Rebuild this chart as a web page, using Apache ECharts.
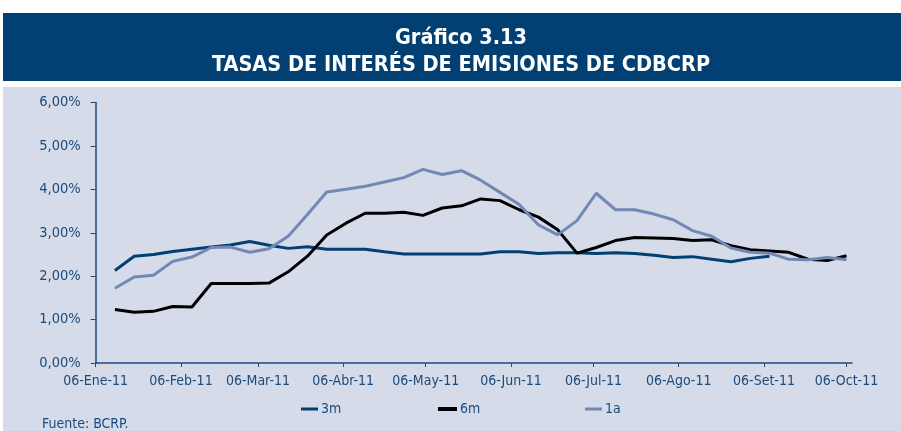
<!DOCTYPE html>
<html>
<head>
<meta charset="utf-8">
<script src="https://cdn.jsdelivr.net/npm/echarts@6/dist/echarts.min.js"></script>
<style>html,body{margin:0;padding:0;background:#fff;}#c{width:901px;height:431px;}</style>
</head>
<body>
<div id="c"></div>
<script>
// ---- data ----
var monthNames = ['Ene','Feb','Mar','Abr','May','Jun','Jul','Ago','Set','Oct','Nov','Dic'];
var weekDates = ['2011-01-13','2011-01-20','2011-01-27','2011-02-03','2011-02-10','2011-02-17','2011-02-24',
  '2011-03-03','2011-03-10','2011-03-17','2011-03-24','2011-03-31','2011-04-07','2011-04-14','2011-04-21','2011-04-28',
  '2011-05-05','2011-05-12','2011-05-19','2011-05-26','2011-06-02','2011-06-09','2011-06-16','2011-06-23','2011-06-30',
  '2011-07-07','2011-07-14','2011-07-21','2011-07-28','2011-08-04','2011-08-11','2011-08-18','2011-08-25',
  '2011-09-01','2011-09-08','2011-09-15','2011-09-22','2011-09-29','2011-10-06'];
var rate3m = [2.13,2.46,2.50,2.57,2.62,2.67,2.72,2.80,2.71,2.64,2.68,2.62,2.62,2.62,2.56,2.51,2.51,2.51,
  2.51,2.51,2.56,2.56,2.52,2.54,2.54,2.52,2.54,2.52,2.48,2.43,2.45,2.39,2.33,2.41,2.46,null,null,null,null];
var rate6m = [1.23,1.17,1.19,1.30,1.29,1.83,1.83,1.83,1.84,2.10,2.46,2.95,3.22,3.45,3.45,3.47,3.40,3.57,
  3.62,3.78,3.74,3.53,3.36,3.07,2.53,2.66,2.82,2.89,2.88,2.87,2.82,2.84,2.70,2.61,2.58,2.55,2.39,2.36,2.47];
var rate1a = [1.72,1.98,2.02,2.34,2.44,2.66,2.67,2.55,2.63,2.92,3.42,3.94,4.00,4.07,4.17,4.27,4.46,4.34,
  4.43,4.21,3.93,3.65,3.18,2.95,3.28,3.91,3.53,3.53,3.43,3.30,3.05,2.92,2.65,2.55,2.53,2.39,2.38,2.43,2.38];
var seriesNames = ['3m','6m','1a'];
var yTicks = [0,1,2,3,4,5,6];
var titleLines = ['Gráfico 3.13', 'TASAS DE INTERÉS DE EMISIONES DE CDBCRP'];
var sourceText = 'Fuente: BCRP.';

// daily category axis (Jan 6 2011 .. Oct 8 2011), labels on the 6th of each month
var days = [];
(function(){
  var d = Date.UTC(2011,0,6), end = Date.UTC(2011,9,8);
  for (; d <= end; d += 86400000) {
    var dt = new Date(d);
    days.push(dt.getUTCFullYear() + '-' + ('0'+(dt.getUTCMonth()+1)).slice(-2) + '-' + ('0'+dt.getUTCDate()).slice(-2));
  }
})();
function isTickDay(v){ return v.slice(8) === '06' && v <= '2011-10-06'; }
function fmtDay(v){ var m = parseInt(v.slice(5,7),10)-1; return v.slice(8) + '-' + monthNames[m] + '-' + v.slice(2,4); }
function pairs(vals){ return weekDates.map(function(d,i){ return [d, vals[i]]; }); }

var axisColor = '#1b4b7d';
var colors = ['#023f73', '#000000', '#7189b4'];
var font = '"DejaVu Sans Condensed", "Liberation Sans Narrow", "Liberation Sans", sans-serif';
function legendFor(i, left, w, h, top) {
  return { left: left, top: top, itemWidth: w, itemHeight: h, itemGap: 0, icon: 'rect', padding: 0,
    textStyle: { color: axisColor, fontFamily: font, fontSize: 14, padding: [0,0,0,-2] }, data: [seriesNames[i]] };
}
var chart = echarts.init(document.getElementById('c'));
chart.setOption({
  animation: false,
  backgroundColor: '#ffffff',
  graphic: [
    { type: 'rect', shape: { x: 3, y: 13, width: 898, height: 68 }, style: { fill: '#023f73' }, z: -10 },
    { type: 'rect', shape: { x: 3, y: 87, width: 898, height: 344 }, style: { fill: '#d5dbe8' }, z: -10 },
    { type: 'text', x: 461, y: 38, style: { text: titleLines[0], fill: '#ffffff', font: 'bold 21.5px ' + font, textAlign: 'center', textVerticalAlign: 'middle' } },
    { type: 'text', x: 461, y: 65, style: { text: titleLines[1], fill: '#ffffff', font: 'bold 21.5px ' + font, textAlign: 'center', textVerticalAlign: 'middle' } },
    { type: 'text', x: 42, y: 424, style: { text: sourceText, fill: axisColor, font: '14px ' + font, textVerticalAlign: 'middle' } }
  ],
  legend: [
    legendFor(0, 301, 17, 3, 402),
    legendFor(1, 438, 19, 4, 402),
    legendFor(2, 585, 17, 3, 402)
  ],
  grid: { left: 95.7, right: 49, top: 102.5, bottom: 68, containLabel: false },
  xAxis: {
    type: 'category', data: days, boundaryGap: false,
    axisLine: { lineStyle: { color: axisColor, width: 1.5 } },
    axisTick: { show: true, interval: function(i, v){ return isTickDay(v); }, length: 4, lineStyle: { color: axisColor } },
    axisLabel: { interval: function(i, v){ return isTickDay(v); }, formatter: fmtDay, color: axisColor, fontFamily: font, fontSize: 14, margin: 11 },
    splitLine: { show: false }
  },
  yAxis: {
    type: 'value', min: yTicks[0], max: yTicks[yTicks.length-1], interval: 1,
    axisLine: { show: true, lineStyle: { color: axisColor, width: 1.5 } },
    axisTick: { show: true, length: 5, lineStyle: { color: axisColor } },
    axisLabel: { formatter: function(v){ return v.toFixed(2).replace('.', ',') + '%'; }, color: axisColor, fontFamily: font, fontSize: 14.5, margin: 15 },
    splitLine: { show: false }
  },
  series: [
    { name: seriesNames[0], type: 'line', data: pairs(rate3m), showSymbol: false, symbol: 'none',
      lineStyle: { color: colors[0], width: 3 }, itemStyle: { color: colors[0] } },
    { name: seriesNames[1], type: 'line', data: pairs(rate6m), showSymbol: false, symbol: 'none',
      lineStyle: { color: colors[1], width: 3 }, itemStyle: { color: colors[1] } },
    { name: seriesNames[2], type: 'line', data: pairs(rate1a), showSymbol: false, symbol: 'none',
      lineStyle: { color: colors[2], width: 3 }, itemStyle: { color: colors[2] } }
  ]
});
</script>
</body>
</html>
